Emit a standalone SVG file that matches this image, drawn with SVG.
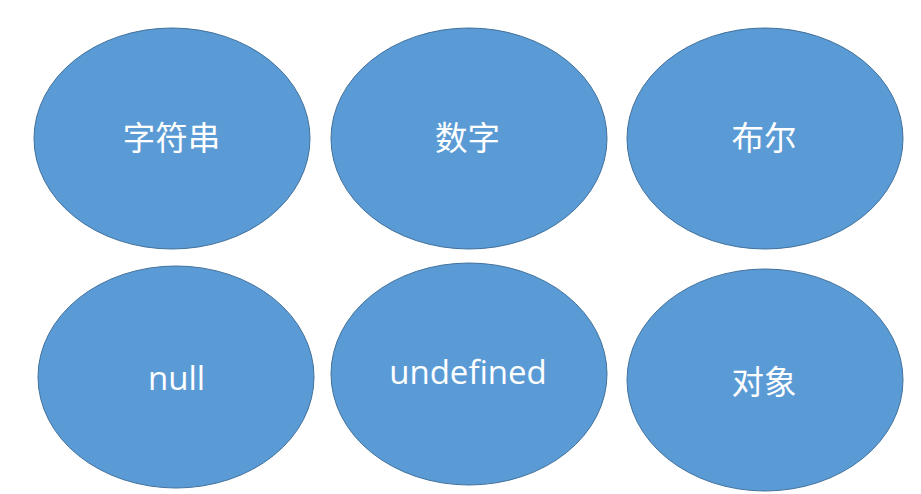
<svg xmlns="http://www.w3.org/2000/svg" width="921" height="494" viewBox="0 0 921 494">
<style>
.node{fill:#5B9BD5;stroke:#41719C;stroke-width:1}
.lbl{fill:#FFFFFF;font-size:33px;text-anchor:middle;font-family:"Open Sans","Noto Sans","Noto Sans CJK SC",sans-serif}
.cjk{font-family:"Noto Sans CJK SC",sans-serif;font-size:32.5px}
</style>
<rect width="921" height="494" fill="#FFFFFF"/>
<g id="connectors"></g>
<g id="n-string"><ellipse class="node" cx="172" cy="138.5" rx="138" ry="110.5"/><text class="lbl cjk" x="171.5" y="150">字符串</text></g>
<g id="n-number"><ellipse class="node" cx="469" cy="138.5" rx="138" ry="110.5"/><text class="lbl cjk" x="467.5" y="150">数字</text></g>
<g id="n-boolean"><ellipse class="node" cx="765" cy="138.5" rx="138" ry="110.5"/><text class="lbl cjk" x="764" y="150">布尔</text></g>
<g id="n-null"><ellipse class="node" cx="176" cy="377" rx="138" ry="111"/><text class="lbl" x="176.5" y="390">null</text></g>
<g id="n-undefined"><ellipse class="node" cx="469" cy="374" rx="138" ry="111"/><text class="lbl" x="468" y="384">undefined</text></g>
<g id="n-object"><ellipse class="node" cx="765" cy="380" rx="138" ry="111"/><text class="lbl cjk" x="764" y="394">对象</text></g>
</svg>
